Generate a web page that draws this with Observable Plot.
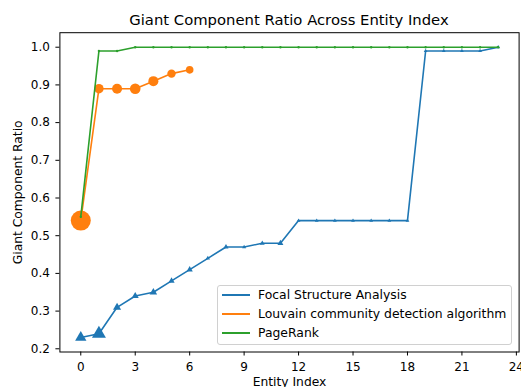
<!DOCTYPE html>
<html>
<head>
<meta charset="utf-8">
<script src="https://cdn.jsdelivr.net/npm/d3@7"></script>
<script src="https://cdn.jsdelivr.net/npm/@observablehq/plot@0.6"></script>
<style>
  html, body { margin: 0; padding: 0; background: #fff; }
  #wrap { position: relative; width: 521px; height: 387px; font-family: "DejaVu Sans", sans-serif; overflow: hidden; }
  #title { position: absolute; left: 59px; width: 460px; top: 12.5px; line-height: 1; text-align: center; font-size: 14.8px; color: #000; white-space: nowrap; }
  #legend { position: absolute; left: 217px; top: 285px; width: 293px; height: 58px; border: 1px solid #d0d0d0; border-radius: 3px; background: rgba(255,255,255,0.8); font-size: 12.4px; color: #000; }
  .item { position: absolute; left: 0; height: 14px; }
  .swatch { position: absolute; left: 4px; width: 28px; height: 2px; }
  .lab { position: absolute; left: 40px; white-space: nowrap; line-height: 14px; }
</style>
</head>
<body>
<div id="wrap">
  <div id="chart"></div>
  <div id="title">Giant Component Ratio Across Entity Index</div>
  <div id="legend"></div>
</div>
<script>
// ---- data ----
const seriesNames = ["Focal Structure Analysis", "Louvain community detection algorithm", "PageRank"];
const seriesColors = ["#1f77b4", "#ff7f0e", "#2ca02c"];

const focalIndex = [0,1,2,3,4,5,6,7,8,9,10,11,12,13,14,15,16,17,18,19,20,21,22,23];
const focalValues = [0.23,0.24,0.31,0.34,0.35,0.38,0.41,0.44,0.47,0.47,0.48,0.48,0.54,0.54,0.54,0.54,0.54,0.54,0.54,0.99,0.99,0.99,0.99,1.0];
const focalMarker = [4.2,5.2,3.0,2.6,2.8,2.3,2.3,1.6,1.9,1.5,1.8,2.2,1.4,1.4,1.4,1.4,1.4,1.4,1.4,1.4,1.4,1.4,1.4,1.4];

const louvainIndex = [0,1,2,3,4,5,6];
const louvainValues = [0.54,0.89,0.89,0.89,0.91,0.93,0.94];
const louvainMarker = [10,4.7,5,5.3,5,4.2,3.8];

const pagerankIndex = [0,1,2,3,4,5,6,7,8,9,10,11,12,13,14,15,16,17,18,19,20,21,22,23];
const pagerankValues = [0.55,0.99,0.99,1.0,1.0,1.0,1.0,1.0,1.0,1.0,1.0,1.0,1.0,1.0,1.0,1.0,1.0,1.0,1.0,1.0,1.0,1.0,1.0,1.0];
const pagerankMarker = pagerankIndex.map(() => 1.2);

const xTicks = [0,3,6,9,12,15,18,21,24];
const yTicks = [0.2,0.3,0.4,0.5,0.6,0.7,0.8,0.9,1.0];

// ---- build tables ----
const focal = focalIndex.map((x, i) => ({x, y: focalValues[i], r: focalMarker[i]}));
const louvain = louvainIndex.map((x, i) => ({x, y: louvainValues[i], r: louvainMarker[i]}));
const pagerank = pagerankIndex.map((x, i) => ({x, y: pagerankValues[i], r: pagerankMarker[i]}));

const chart = Plot.plot({
  width: 521,
  height: 387,
  marginTop: 32.2,
  marginBottom: 35.5,
  marginLeft: 59.4,
  marginRight: 2.4,
  style: { fontFamily: "DejaVu Sans, sans-serif", fontSize: "12px", color: "#000", background: "#fff" },
  x: { domain: [-1.15, 24.15] },
  y: { domain: [0.1915, 1.0385] },
  r: { type: "identity" },
  marks: [
    Plot.axisX({ ticks: xTicks, tickSize: 4, tickPadding: 6.5, label: null, fontSize: 12 }),
    Plot.axisY({ ticks: yTicks, tickSize: 4, tickPadding: 6, tickFormat: d3.format(".1f"), label: null, fontSize: 12 }),
    Plot.line(focal, { x: "x", y: "y", stroke: seriesColors[0], strokeWidth: 1.6 }),
    Plot.dot(focal, { x: "x", y: "y", r: "r", symbol: "triangle", fill: seriesColors[0], stroke: "none" }),
    Plot.line(louvain, { x: "x", y: "y", stroke: seriesColors[1], strokeWidth: 1.6 }),
    Plot.dot(louvain, { x: "x", y: "y", r: "r", fill: seriesColors[1], stroke: "none" }),
    Plot.line(pagerank, { x: "x", y: "y", stroke: seriesColors[2], strokeWidth: 1.6 }),
    Plot.dot(pagerank, { x: "x", y: "y", r: "r", fill: seriesColors[2], stroke: "none" }),
    Plot.frame({ stroke: "#000", strokeWidth: 1 }),
    Plot.text(["Entity Index"], { frameAnchor: "bottom", dy: 25.4, lineAnchor: "top", fontSize: 12.3, fill: "#000" }),
    Plot.text(["Giant Component Ratio"], { frameAnchor: "left", dx: -42, rotate: -90, textAnchor: "middle", lineAnchor: "middle", fontSize: 12.3, fill: "#000" })
  ]
});
document.getElementById("chart").appendChild(chart);

// ---- legend ----
const legend = document.getElementById("legend");
seriesNames.forEach((name, i) => {
  const item = document.createElement("div");
  item.className = "item";
  item.style.top = (2 + i * 19) + "px";
  item.innerHTML = `<div class="swatch" style="top:6px;background:${seriesColors[i]}"></div><div class="lab">${name}</div>`;
  legend.appendChild(item);
});
</script>
</body>
</html>
